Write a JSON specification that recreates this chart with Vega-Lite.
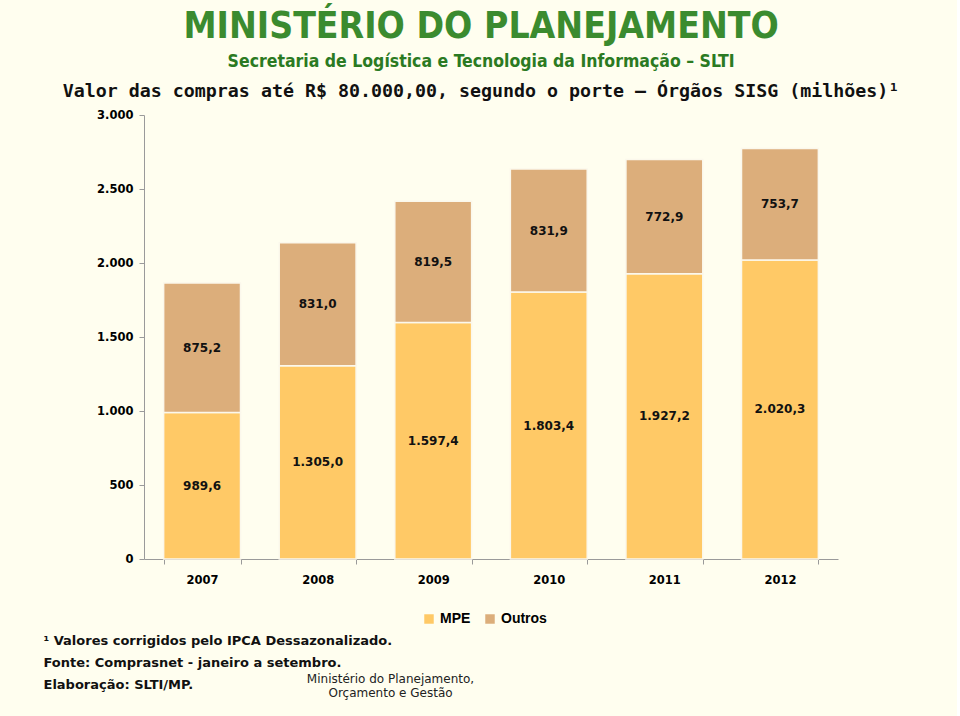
{
  "$schema": "https://vega.github.io/schema/vega-lite/v6.json",
  "background": "#FFFEEF",
  "padding": {"left": 43, "top": 7, "right": 57, "bottom": 23},
  "config": {
    "locale": {"number": {"decimal": ",", "thousands": ".", "grouping": [3], "currency": ["R$ ", ""]}},
    "view": {"stroke": null}
  },
  "title": {
    "text": "MINISTÉRIO DO PLANEJAMENTO",
    "subtitle": "Secretaria de Logística e Tecnologia da Informação – SLTI",
    "font": "Liberation Sans Narrow, DejaVu Sans Condensed, sans-serif",
    "fontSize": 37,
    "fontWeight": "bold",
    "color": "#3B8B2F",
    "subtitleFont": "Liberation Sans Narrow, DejaVu Sans Condensed, sans-serif",
    "subtitleFontSize": 17.5,
    "subtitleFontWeight": "bold",
    "subtitleColor": "#2B7A22",
    "subtitlePadding": 7,
    "anchor": "middle",
    "offset": 11,
    "dx": 10
  },
  "datasets": {
    "compras": [
      {"ano": "2007", "porte": "MPE", "valor": 989.6},
      {"ano": "2007", "porte": "Outros", "valor": 875.2},
      {"ano": "2008", "porte": "MPE", "valor": 1305.0},
      {"ano": "2008", "porte": "Outros", "valor": 831.0},
      {"ano": "2009", "porte": "MPE", "valor": 1597.4},
      {"ano": "2009", "porte": "Outros", "valor": 819.5},
      {"ano": "2010", "porte": "MPE", "valor": 1803.4},
      {"ano": "2010", "porte": "Outros", "valor": 831.9},
      {"ano": "2011", "porte": "MPE", "valor": 1927.2},
      {"ano": "2011", "porte": "Outros", "valor": 772.9},
      {"ano": "2012", "porte": "MPE", "valor": 2020.3},
      {"ano": "2012", "porte": "Outros", "valor": 753.7}
    ]
  },
  "vconcat": [
    {
      "width": 694,
      "height": 444,
      "title": {
        "text": "Valor das compras até R$ 80.000,00, segundo o porte – Órgãos SISG (milhões)¹",
        "font": "DejaVu Sans Mono",
        "fontSize": 18.3,
        "fontWeight": "bold",
        "color": "#111111",
        "anchor": "middle",
        "offset": 7.5,
        "dx": -10
      },
      "data": {"name": "compras"},
      "layer": [
        {
          "mark": {"type": "bar", "stroke": "#FBF8EC", "strokeWidth": 1.5},
          "encoding": {
            "x": {
              "field": "ano",
              "type": "nominal",
              "scale": {"paddingInner": 0.335, "paddingOuter": 0.17},
              "axis": {
                "title": [
                  "¹ Valores corrigidos pelo IPCA Dessazonalizado.",
                  "Fonte: Comprasnet - janeiro a setembro.",
                  "Elaboração: SLTI/MP."
                ],
                "titleAnchor": "start",
                "titleAlign": "left",
                "titleX": -101,
                "titleY": 75,
                "titleBaseline": "top",
                "titleFont": "DejaVu Sans",
                "titleFontSize": 13,
                "titleFontWeight": "bold",
                "titleLineHeight": 22,
                "titleColor": "#111111",
                "labelAngle": 0,
                "labelFont": "DejaVu Sans",
                "labelFontSize": 11.5,
                "labelFontWeight": "bold",
                "labelColor": "#000000",
                "labelPadding": 10,
                "domainColor": "#9A9A9A",
                "tickColor": "#9A9A9A",
                "tickBand": "extent",
                "tickSize": 5
              }
            },
            "y": {
              "field": "valor",
              "type": "quantitative",
              "stack": "zero",
              "scale": {"domain": [0, 3000], "nice": false},
              "axis": {
                "values": [0, 500, 1000, 1500, 2000, 2500, 3000],
                "format": ",.0f",
                "grid": false,
                "labelFont": "DejaVu Sans",
                "labelFontSize": 11.5,
                "labelFontWeight": "bold",
                "labelColor": "#000000",
                "labelPadding": 6,
                "domainColor": "#9A9A9A",
                "tickColor": "#9A9A9A",
                "tickSize": 5,
                "title": ["Ministério do Planejamento,", "Orçamento e Gestão"],
                "titleAngle": 0,
                "titleAlign": "center",
                "titleBaseline": "top",
                "titleX": 246,
                "titleY": 558,
                "titleFont": "DejaVu Sans",
                "titleFontSize": 12,
                "titleFontWeight": "normal",
                "titleLineHeight": 14,
                "titleColor": "#222222"
              }
            },
            "color": {
              "field": "porte",
              "type": "nominal",
              "scale": {"domain": ["MPE", "Outros"], "range": ["#FFC966", "#DCAE7B"]},
              "legend": {
                "orient": "none",
                "legendX": 278,
                "legendY": 497,
                "direction": "horizontal",
                "title": null,
                "symbolType": "square",
                "symbolSize": 90,
                "symbolStrokeWidth": 0,
                "labelFont": "Liberation Sans",
                "labelFontSize": 14,
                "labelFontWeight": "bold",
                "labelColor": "#000000",
                "columnPadding": 12
              }
            },
            "order": {"field": "porte", "sort": "ascending"}
          }
        },
        {
          "transform": [
            {"stack": "valor", "groupby": ["ano"], "sort": [{"field": "porte"}], "as": ["v0", "v1"]},
            {"calculate": "(datum.v0 + datum.v1) / 2", "as": "meio"}
          ],
          "mark": {"type": "text", "font": "DejaVu Sans", "fontSize": 12, "fontWeight": "bold", "color": "#111111"},
          "encoding": {
            "x": {"field": "ano", "type": "nominal"},
            "y": {"field": "meio", "type": "quantitative"},
            "text": {"field": "valor", "type": "quantitative", "format": ",.1f"}
          }
        }
      ]
    }
  ]
}
